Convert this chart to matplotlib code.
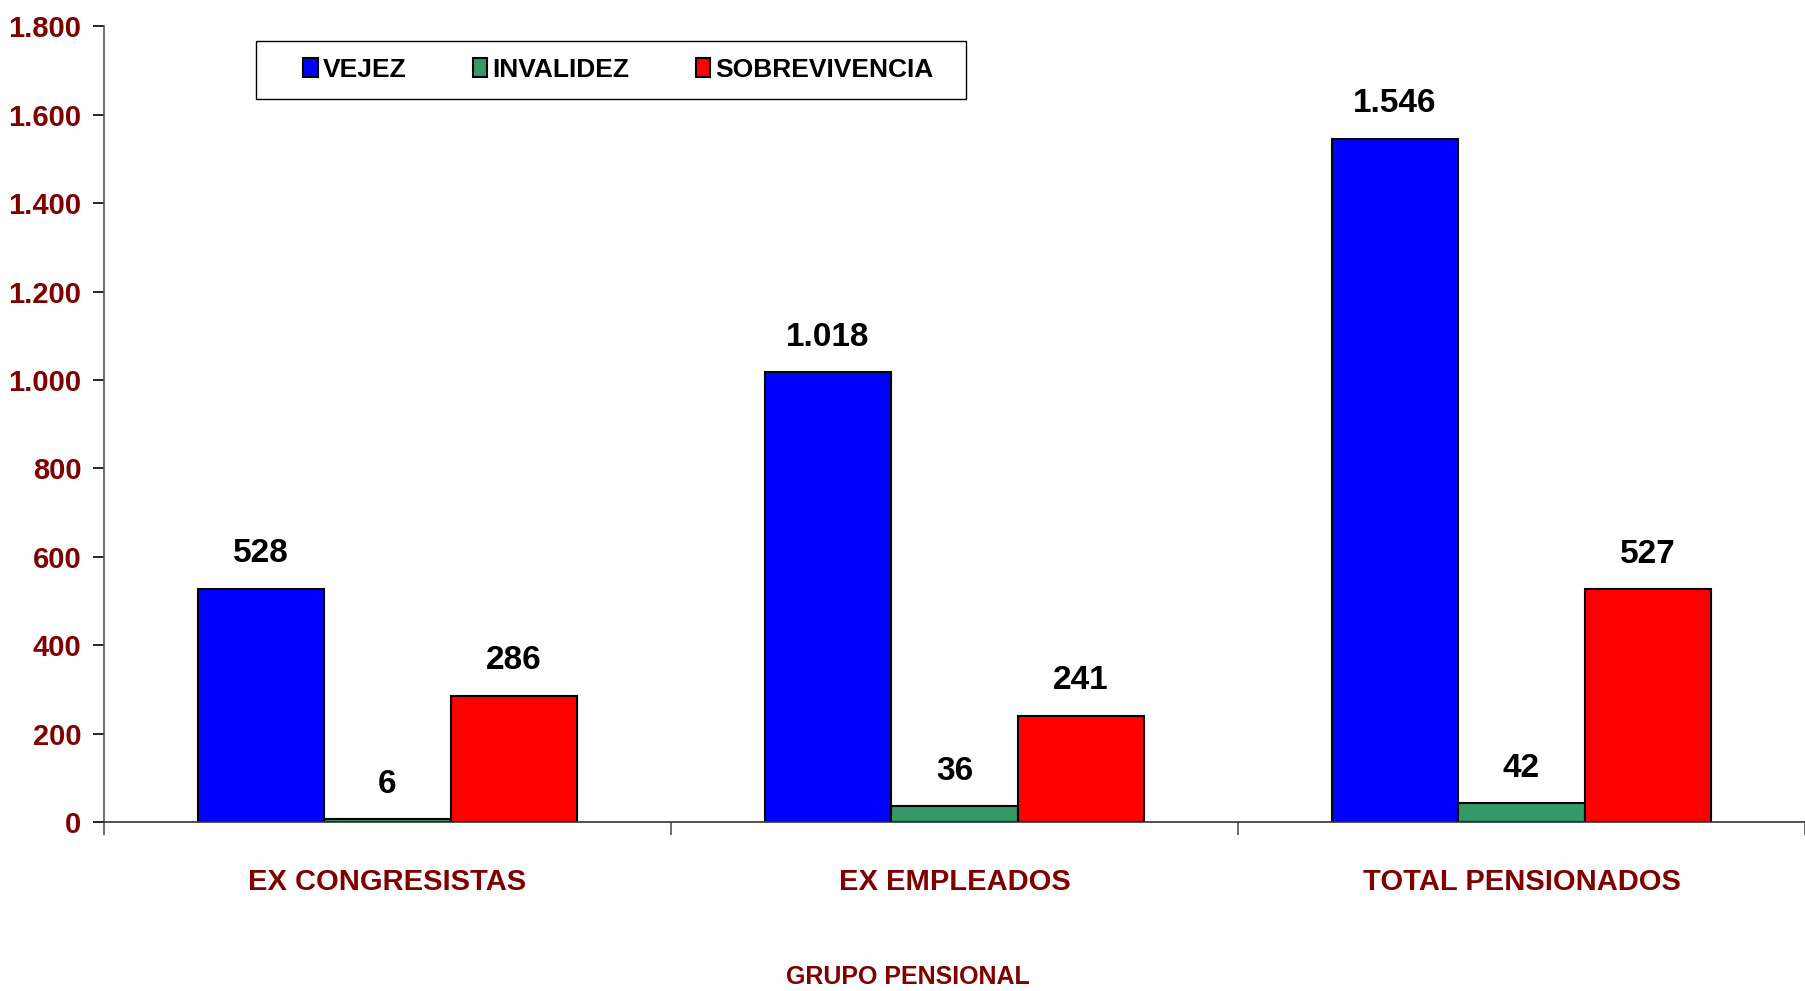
import matplotlib

matplotlib.use("Agg")
import matplotlib.pyplot as plt
import numpy as np
from matplotlib.patches import Rectangle
from matplotlib.ticker import FuncFormatter, MultipleLocator

plt.rcParams['font.family'] = ['Liberation Sans', 'DejaVu Sans']
plt.rcParams['font.weight'] = 'bold'

grupos = ["EX CONGRESISTAS", "EX EMPLEADOS", "TOTAL PENSIONADOS"]
series = ["VEJEZ", "INVALIDEZ", "SOBREVIVENCIA"]
vejez = [528, 1018, 1546]
invalidez = [6, 36, 42]
sobrevivencia = [286, 241, 527]
colores = ["#0000FF", "#339966", "#FF0000"]

DARK_RED = "#800000"


def miles(v, _pos=None):
    return f"{int(round(v)):,}".replace(",", ".")


fig = plt.figure(figsize=(18.05, 9.91), dpi=100)
ax = fig.add_axes([0.0575, 0.1705, 0.9425, 0.8028])

x = np.arange(len(grupos))
w = 0.223
for i, (name, vals) in enumerate(zip(series, [vejez, invalidez, sobrevivencia])):
    pos = x + (i - 1) * w
    bars = ax.bar(pos, vals, width=w, color=colores[i], edgecolor="black",
                  linewidth=1.5, label=name)
    for b, v in zip(bars, vals):
        ax.annotate(miles(v), (b.get_x() + b.get_width() / 2, v),
                    xytext=(0, 14), textcoords="offset points",
                    ha="center", va="bottom", fontsize=24, fontweight="bold",
                    color="black")

ax.set_ylim(0, 1800)
ax.set_xlim(-0.5, 2.467)
ax.yaxis.set_major_locator(MultipleLocator(200))
ax.yaxis.set_major_formatter(FuncFormatter(miles))
ax.tick_params(axis="y", labelsize=21, labelcolor=DARK_RED, length=8,
               width=1.2, direction="out", pad=8)

# group boundaries as ticks, names drawn below
ax.set_xticks([-0.5, 0.5, 1.5, 2.5])
ax.set_xticklabels([])
ax.tick_params(axis="x", length=9, width=1.2, direction="out", color="#555555")
for xi, g in zip(x, grupos):
    ax.text(xi, -0.075, g, transform=ax.get_xaxis_transform(), ha="center",
            va="center", fontsize=21, fontweight="bold", color=DARK_RED)

for s in ["top", "right"]:
    ax.spines[s].set_visible(False)
ax.spines["left"].set_color("#555555")
ax.spines["left"].set_linewidth(1.2)
ax.spines["bottom"].set_color("#333333")
ax.spines["bottom"].set_linewidth(1.2)

fig.text(0.503, 0.0141, "GRUPO PENSIONAL", ha="center", va="center",
         fontsize=18, fontweight="bold", color=DARK_RED)

# legend box drawn separately so the entries can sit where the original has them
fig.add_artist(Rectangle((0.142, 0.900), 0.393, 0.0586, transform=fig.transFigure,
                         fill=False, edgecolor="black", linewidth=1.0))
leg = ax.legend(loc="center left", bbox_to_anchor=(0.168, 0.9294),
                bbox_transform=fig.transFigure, ncol=3, fontsize=19,
                frameon=False, borderaxespad=0, borderpad=0,
                handlelength=0.55, handleheight=0.75, handletextpad=0.2,
                columnspacing=2.5)
for t in leg.get_texts():
    t.set_fontweight("bold")

fig.savefig("out.png", dpi=100)
